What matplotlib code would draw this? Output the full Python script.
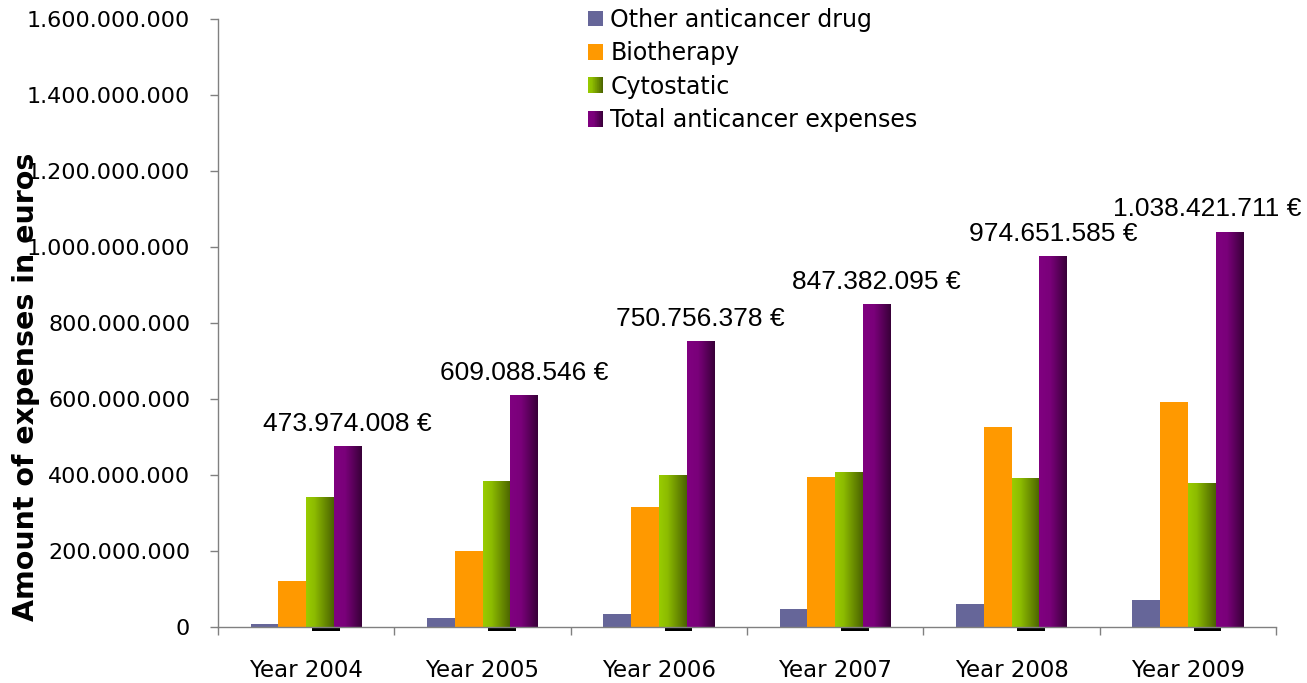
import numpy as np
import matplotlib
matplotlib.use("Agg")
import matplotlib.pyplot as plt
from matplotlib.colors import LinearSegmentedColormap
from matplotlib.legend_handler import HandlerBase
from matplotlib.patches import Rectangle
from matplotlib.ticker import FuncFormatter, MultipleLocator

# Anticancer drug expenses per year (euros)
years = ["Year 2004", "Year 2005", "Year 2006", "Year 2007", "Year 2008", "Year 2009"]
other = [9e6, 24e6, 34e6, 47e6, 60e6, 70e6]
biotherapy = [122e6, 200e6, 316e6, 395e6, 525e6, 591e6]
cytostatic = [340e6, 382e6, 398e6, 406e6, 390e6, 377e6]
total = [473974008, 609088546, 750756378, 847382095, 974651585, 1038421711]
residual = [-10e6, -10e6, -10e6, -10e6, -10e6, -10e6]

green_cmap = LinearSegmentedColormap.from_list(
    "green", [(0, "#99CC00"), (0.3, "#8DBC00"), (1, "#4A6200")])
purple_cmap = LinearSegmentedColormap.from_list(
    "purple", [(0, "#800080"), (0.4, "#7A007A"), (1, "#380038")])


def dotted(v, pos=None):
    return f"{int(round(v)):,}".replace(",", ".")


class GradientHandler(HandlerBase):
    def __init__(self, cmap, n=24):
        super().__init__()
        self.cmap = cmap
        self.n = n

    def create_artists(self, legend, orig_handle, xdescent, ydescent,
                       width, height, fontsize, trans):
        arts = []
        for i in range(self.n):
            arts.append(Rectangle((-xdescent + i * width / self.n, -ydescent),
                                  width / self.n + 0.3, height,
                                  facecolor=self.cmap((i + 0.5) / self.n),
                                  edgecolor="none", transform=trans))
        return arts


def shade(ax, bars, cmap):
    grad = np.linspace(0, 1, 256).reshape(1, -1)
    for b in bars:
        x, w, h = b.get_x(), b.get_width(), b.get_height()
        ax.imshow(grad, cmap=cmap, aspect="auto", extent=[x, x + w, 0, h],
                  zorder=3, interpolation="bilinear")


plt.rcParams["font.family"] = "DejaVu Sans"

fig = plt.figure(figsize=(13.07, 6.83), dpi=100)
ax = fig.add_axes([0.1668, 0.082, 0.8095, 0.8903])

x = np.arange(len(years))
w = 0.157
b_other = ax.bar(x - 1.5 * w, other, w, color="#666699", zorder=2,
                 label="Other anticancer drug")
b_bio = ax.bar(x - 0.5 * w, biotherapy, w, color="#FF9900", zorder=2,
               label="Biotherapy")
b_cyto = ax.bar(x + 0.5 * w, cytostatic, w, color="#99CC00", zorder=2,
                label="Cytostatic")
b_total = ax.bar(x + 1.5 * w, total, w, color="#800080", zorder=2,
                 label="Total anticancer expenses")
ax.bar(x + 0.112, residual, w, color="black", zorder=1, clip_on=False)

shade(ax, b_cyto, green_cmap)
shade(ax, b_total, purple_cmap)

# last label is pushed left so it stays inside the figure
label_shift = [0, 0, 0, 0, 0, -16]
for xi, v, dx in zip(x + 1.5 * w, total, label_shift):
    ax.annotate(dotted(v) + " €", (xi, v), xytext=(dx, 11.5),
                textcoords="offset points", ha="center", va="baseline",
                fontsize=19, family="Liberation Sans")

ax.set_xlim(-0.5, 5.5)
ax.set_ylim(0, 1.6e9)
ax.yaxis.set_major_locator(MultipleLocator(2e8))
ax.yaxis.set_major_formatter(FuncFormatter(dotted))
ax.set_xticks(x)
ax.set_xticklabels(years)
ax.set_xticks(np.arange(-0.5, 6), minor=True)
ax.tick_params(axis="x", which="major", length=0, pad=23, labelsize=16.5)
ax.tick_params(axis="x", which="minor", length=6, width=1, color="#808080",
               direction="out")
ax.tick_params(axis="y", length=6, width=1, color="#808080", pad=14,
               labelsize=16)

for s in ["top", "right"]:
    ax.spines[s].set_visible(False)
for s in ["left", "bottom"]:
    ax.spines[s].set_color("#808080")
    ax.spines[s].set_linewidth(1)
ax.spines["bottom"].set_zorder(4)

fig.text(26 / 1307, 1 - 387 / 683, "Amount of expenses in euros",
         rotation=90, ha="center", va="center", fontsize=20.5,
         fontweight="bold")

handles = [b_other, b_bio, b_cyto, b_total]
ax.legend(handles, [h.get_label() for h in handles],
          handler_map={b_cyto: GradientHandler(green_cmap),
                       b_total: GradientHandler(purple_cmap)},
          loc="upper left", bbox_to_anchor=(583 / 1307, 1 - 3 / 683),
          bbox_transform=fig.transFigure, frameon=False, fontsize=17,
          handlelength=0.65, handleheight=0.65, handletextpad=0.3,
          labelspacing=0.4, borderaxespad=0, borderpad=0.2)

fig.savefig("out.png", dpi=100)
